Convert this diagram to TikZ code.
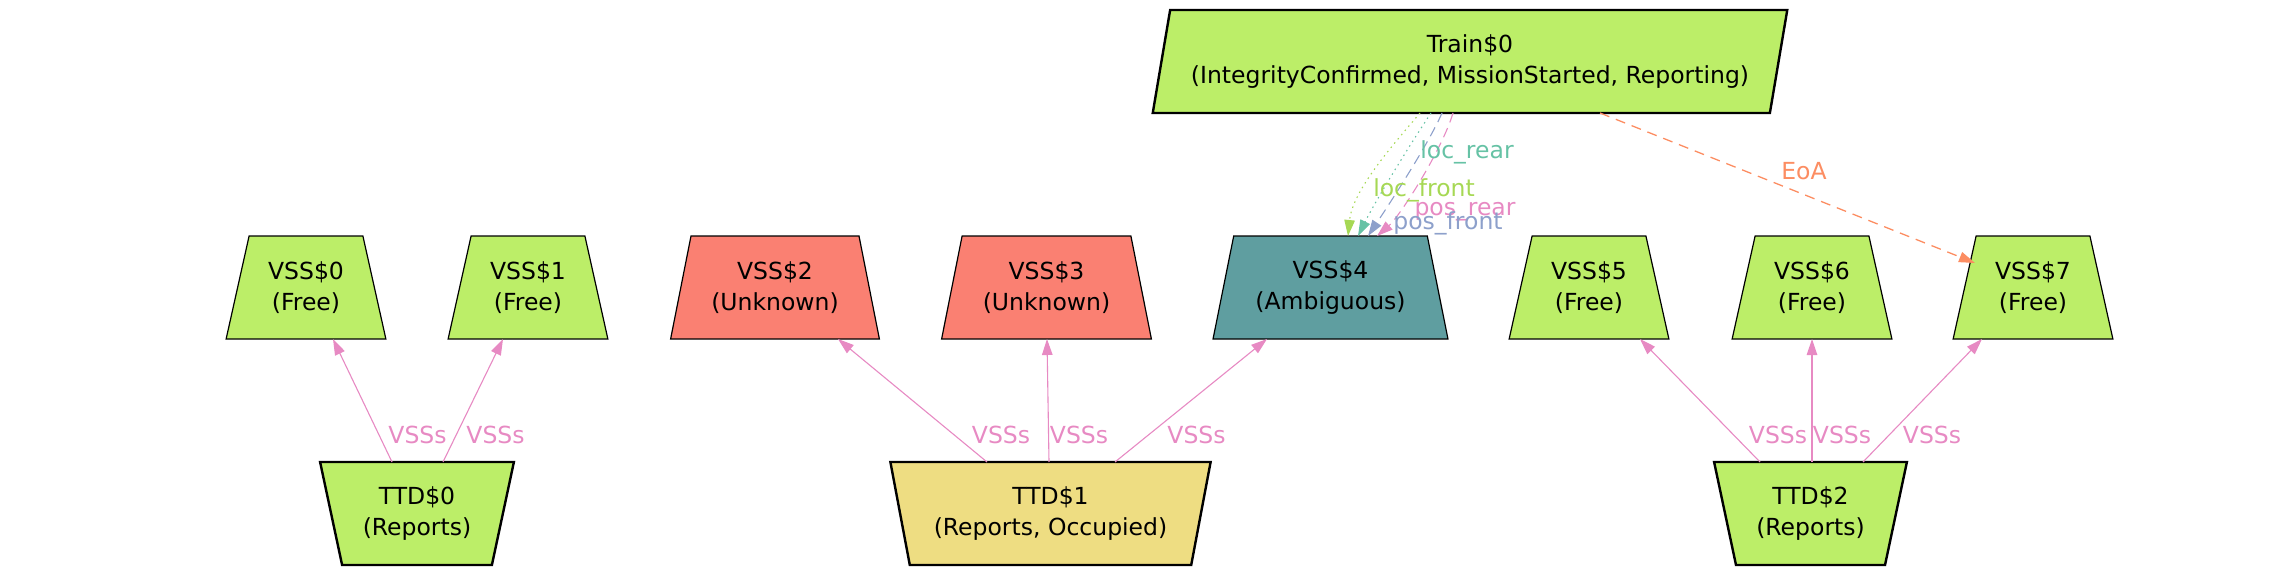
\documentclass[tikz,border=0pt]{standalone}
\usepackage{fontspec}
\setmainfont{DejaVu Sans}
\usetikzlibrary{shapes.geometric,arrows.meta,calc}
\definecolor{vgreen}{RGB}{188,238,104}
\definecolor{vsalmon}{RGB}{250,128,114}
\definecolor{vcadet}{RGB}{95,158,160}
\definecolor{vgold}{RGB}{238,221,130}
\definecolor{cteal}{RGB}{102,194,165}
\definecolor{corange}{RGB}{252,141,98}
\definecolor{cblue}{RGB}{141,160,203}
\definecolor{cpink}{RGB}{231,138,195}
\definecolor{cgreen}{RGB}{166,216,84}
\begin{document}
\begin{tikzpicture}[x=1pt,y=-1pt,
  every node/.style={font=\fontsize{23.5}{31}\selectfont},
  shapebase/.style={trapezium, trapezium stretches=true, minimum height=103pt,
    draw=black, inner sep=1pt, outer sep=0pt, align=center},
  vss/.style={shapebase, trapezium left angle=73.76, trapezium right angle=73.76, line width=1.2pt},
  ttd/.style={shapebase, trapezium left angle=106.24, trapezium right angle=106.24, line width=2.4pt},
  trainbox/.style={shapebase, trapezium left angle=73.76, trapezium right angle=106.24, line width=2.4pt},
  vlink/.style={draw=cpink, line width=1.1pt, -{Triangle[length=16pt,width=10.5pt]}},
  vlabel/.style={text=cpink, inner sep=0pt},
  tip/.style={-{Triangle[length=16pt,width=10.5pt]}}
]
\useasboundingbox (0,0) rectangle (2278,575);

% Train
\node[trainbox, fill=vgreen, minimum width=638pt] (train) at (1470,61.5)
  {Train\$0\\(IntegrityConfirmed, MissionStarted, Reporting)};

% VSS nodes
\node[vss, fill=vgreen, minimum width=160pt] (v0) at (306,287.5) {VSS\$0\\(Free)};
\node[vss, fill=vgreen, minimum width=160pt] (v1) at (528,287.5) {VSS\$1\\(Free)};
\node[vss, fill=vsalmon, minimum width=209pt] (v2) at (775,287.5) {VSS\$2\\(Unknown)};
\node[vss, fill=vsalmon, minimum width=210pt] (v3) at (1046.5,287.5) {VSS\$3\\(Unknown)};
\node[vss, fill=vcadet, minimum width=235pt] (v4) at (1330.5,287.5) {VSS\$4\\(Ambiguous)};
\node[vss, fill=vgreen, minimum width=160pt] (v5) at (1589,287.5) {VSS\$5\\(Free)};
\node[vss, fill=vgreen, minimum width=160pt] (v6) at (1812,287.5) {VSS\$6\\(Free)};
\node[vss, fill=vgreen, minimum width=160pt] (v7) at (2033,287.5) {VSS\$7\\(Free)};

% TTD nodes
\node[ttd, fill=vgreen, minimum width=194pt] (t0) at (417,513.5) {TTD\$0\\(Reports)};
\node[ttd, fill=vgold, minimum width=321pt] (t1) at (1050.5,513.5) {TTD\$1\\(Reports, Occupied)};
\node[ttd, fill=vgreen, minimum width=193pt] (t2) at (1810.5,513.5) {TTD\$2\\(Reports)};

% TTD -> VSS links
\draw[vlink] ($(t0.center)+(-25,-51.5)$) -- ($(v0.center)+(27,51.5)$);
\draw[vlink] ($(t0.center)+(26,-51.5)$) -- ($(v1.center)+(-25,51.5)$);
\draw[vlink] ($(t1.center)+(-63.5,-51.5)$) -- ($(v2.center)+(63,51.5)$);
\draw[vlink] ($(t1.center)+(-1.5,-51.5)$) -- ($(v3.center)+(0.5,51.5)$);
\draw[vlink] ($(t1.center)+(64.5,-51.5)$) -- ($(v4.center)+(-63.5,51.5)$);
\draw[vlink] ($(t2.center)+(-50.5,-51.5)$) -- ($(v5.center)+(51,51.5)$);
\draw[vlink] ($(t2.center)+(1.5,-51.5)$) -- ($(v6.center)+(0,51.5)$);
\draw[vlink] ($(t2.center)+(52.5,-51.5)$) -- ($(v7.center)+(-51,51.5)$);

\node[vlabel] (l0a) at (417.5,435) {VSSs};
\node[vlabel] (l0b) at (495.5,435) {VSSs};
\node[vlabel] (l1a) at (1001,435) {VSSs};
\node[vlabel] (l1b) at (1079,435) {VSSs};
\node[vlabel] (l1c) at (1196.5,435) {VSSs};
\node[vlabel] (l2a) at (1778,435) {VSSs};
\node[vlabel] (l2b) at (1842,435) {VSSs};
\node[vlabel] (l2c) at (1932,435) {VSSs};

% Train -> VSS4 links
\draw[cgreen, line width=1.1pt, dash pattern=on 1.5pt off 4pt, tip]
  ($(train.center)+(-50,51.5)$) .. controls +(-29,34) and +(4.5,-45) .. ($(v4.center)+(17.5,-51.5)$);
\draw[cteal, line width=1.1pt, dash pattern=on 1.5pt off 4pt, tip]
  ($(train.center)+(-39,51.5)$) .. controls +(-22,33) and +(18,-36) .. ($(v4.center)+(27.5,-51.5)$);
\draw[cblue, line width=1.1pt, dash pattern=on 10pt off 6pt, tip]
  ($(train.center)+(-28,51.5)$) .. controls +(-14,32) and +(20,-30) .. ($(v4.center)+(37.5,-51.5)$);
\draw[cpink, line width=1.1pt, dash pattern=on 10pt off 6pt, tip]
  ($(train.center)+(-17,51.5)$) .. controls +(-11,37) and +(23,-20) .. ($(v4.center)+(46.5,-51.5)$);

\node[text=cteal, inner sep=0pt] (lrear) at (1467,152) {loc\_rear};
\node[text=cgreen, inner sep=0pt] (lfront) at (1424,190) {loc\_front};
\node[text=cpink, inner sep=0pt] (prear) at (1465,212) {pos\_rear};
\node[text=cblue, inner sep=0pt] (pfront) at (1448,223) {pos\_front};

% EoA
\draw[corange, line width=1.3pt, dash pattern=on 10pt off 7pt, tip]
  ($(train.center)+(130,51.5)$) -- ($(v7.center)+(-58,-24.5)$);
\node[text=corange, inner sep=0pt] (eoa) at (1804,171) {EoA};
\end{tikzpicture}
\end{document}
